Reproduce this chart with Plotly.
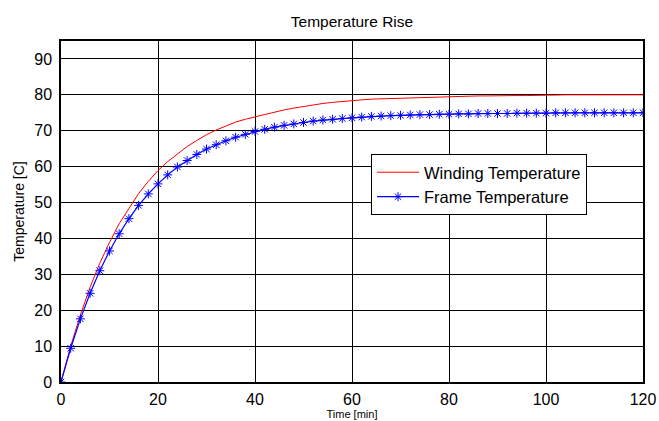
import plotly.graph_objects as go

time_min = list(range(0, 122, 2))
winding_temp = [0, 10.0, 18.7, 26.4, 33.1, 38.9, 44.1, 48.5, 52.5, 55.9,
                58.9, 61.4, 63.6, 65.6, 67.3, 68.9, 70.2, 71.4, 72.4, 73.2,
                73.9, 74.6, 75.2, 75.8, 76.3, 76.8, 77.2, 77.6, 77.9, 78.2,
                78.4, 78.6, 78.8, 78.9, 79.0, 79.1, 79.2, 79.3, 79.4, 79.5,
                79.6, 79.6, 79.7, 79.7, 79.7, 79.8, 79.8, 79.8, 79.8, 79.9,
                80.0, 80.0, 80.0, 80.0, 80.0, 80.0, 80.0, 80.0, 80.0, 80.0, 80.0]
frame_temp = [0, 9.4, 17.6, 24.7, 31.0, 36.5, 41.3, 45.5, 49.2, 52.4,
              55.2, 57.7, 59.9, 61.7, 63.4, 64.9, 66.1, 67.2, 68.2, 69.0,
              69.8, 70.4, 71.0, 71.5, 71.9, 72.3, 72.7, 73.0, 73.2, 73.4,
              73.6, 73.8, 74.0, 74.1, 74.2, 74.3, 74.4, 74.5, 74.5, 74.6,
              74.6, 74.7, 74.7, 74.8, 74.8, 74.8, 74.8, 74.9, 74.9, 74.9,
              74.9, 75.0, 75.0, 75.0, 75.0, 75.0, 75.0, 75.0, 75.0, 75.0, 75.0]
x_ticks = [0, 20, 40, 60, 80, 100, 120]
y_ticks = [0, 10, 20, 30, 40, 50, 60, 70, 80, 90]

FONT = "Liberation Sans, Arial, sans-serif"

fig = go.Figure()
fig.add_trace(go.Scatter(x=time_min, y=winding_temp, mode="lines",
                         name="Winding Temperature",
                         line=dict(color="#ff0000", width=1)))
fig.add_trace(go.Scatter(x=time_min, y=frame_temp, mode="lines+markers",
                         name="Frame Temperature",
                         line=dict(color="#0000ff", width=1.2),
                         marker=dict(symbol="asterisk-open", size=7.5,
                                     color="#0000ff",
                                     line=dict(color="#0000ff", width=1))))

fig.update_layout(
    width=659, height=421,
    margin=dict(l=61, r=16, t=41, b=39, autoexpand=False),
    paper_bgcolor="white", plot_bgcolor="white",
    font=dict(family=FONT, size=15, color="black"),
    title=dict(text="Temperature Rise", x=(61 + 643) / 2 / 659, xanchor="center",
               y=1 - 22 / 421, yanchor="middle",
               font=dict(family=FONT, size=15.5, color="black")),
    legend=dict(x=(371 - 61) / 582, y=(382 - 154) / 341, xanchor="left", yanchor="top",
                bgcolor="white", bordercolor="black", borderwidth=1,
                font=dict(family=FONT, size=16.5, color="black"),
                itemwidth=42, tracegroupgap=0),
    showlegend=True,
)
fig.update_xaxes(range=[0, 120], tickvals=x_ticks, ticktext=[str(v) for v in x_ticks],
                 automargin=False,
                 showgrid=True, gridcolor="black", gridwidth=1,
                 showline=True, linecolor="black", linewidth=1.5, mirror=True,
                 ticks="inside", ticklen=5, tickcolor="black",
                 zeroline=False, ticklabelstandoff=2,
                 tickfont=dict(family=FONT, size=16, color="black"),
                 title=dict(text="Time [min]", standoff=2,
                            font=dict(family=FONT, size=11, color="black")))
fig.update_yaxes(range=[0, 95], tickvals=y_ticks, ticktext=[str(v) for v in y_ticks],
                 automargin=False,
                 showgrid=True, gridcolor="black", gridwidth=1,
                 showline=True, linecolor="black", linewidth=1.5, mirror=True,
                 ticks="inside", ticklen=5, tickcolor="black",
                 zeroline=False, ticklabelstandoff=4,
                 tickfont=dict(family=FONT, size=16, color="black"),
                 title=dict(text="Temperature [C]", standoff=6,
                            font=dict(family=FONT, size=14, color="black")))

fig.write_html("out.html", config={"displayModeBar": False},
               post_script="document.body.style.margin='0';document.body.style.padding='0';")
